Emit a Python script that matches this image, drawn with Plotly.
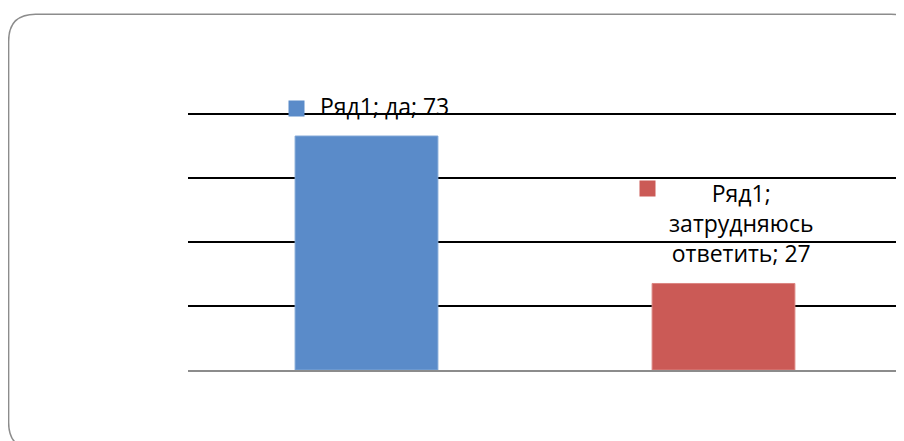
import plotly.graph_objects as go

categories = ["да", "затрудняюсь ответить"]
values = [73, 27]
series_name = "Ряд1"
label_lines = [["Ряд1; да; 73"], ["Ряд1;", "затрудняюсь", "ответить; 27"]]
colors = ["#5A8BC9", "#CB5A56"]
edge_colors = ["#7FA6D6", "#DB8581"]
grid_vals = [20, 40, 60, 80]
y_max = 80.5

# page body margin offset (figure drawn at (8, 8) in the window)
OFF = 8
W, H = 896, 433
ML = 187.5 - OFF
MR = 2
PH_per_unit = (370.5 - 113.5) / 80
MB = H - (370.5 - OFF)
MT = (113.5 - OFF) - (y_max - 80) * PH_per_unit
PW, PH = W - ML - MR, H - MT - MB

fig = go.Figure()
fig.add_trace(go.Bar(
    x=categories, y=values, name=series_name,
    marker=dict(color=colors, line=dict(color=edge_colors, width=1)),
    width=0.4, showlegend=False, hoverinfo="skip",
))

def px_x(p):
    return (p - OFF - ML) / PW

def px_y(p):
    return (H - MB - (p - OFF)) / PH

# rounded frame (screen pixel targets)
x0, y0, x1, y1, r = 8, 14, 918, 450, 27
path = (
    f"M {px_x(x0)} {px_y(y0 + r)} "
    f"Q {px_x(x0)} {px_y(y0)} {px_x(x0 + r)} {px_y(y0)} "
    f"L {px_x(x1 - r)} {px_y(y0)} "
    f"Q {px_x(x1)} {px_y(y0)} {px_x(x1)} {px_y(y0 + r)} "
    f"L {px_x(x1)} {px_y(y1 - r)} "
    f"Q {px_x(x1)} {px_y(y1)} {px_x(x1 - r)} {px_y(y1)} "
    f"L {px_x(x0 + r)} {px_y(y1)} "
    f"Q {px_x(x0)} {px_y(y1)} {px_x(x0)} {px_y(y1 - r)} Z"
)
fig.add_shape(type="path", path=path, xref="paper", yref="paper",
              line=dict(color="#8C8C8C", width=1.5), layer="below")

font = dict(family="Open Sans", size=23, color="#000000")
text_dx = [18, 17]
key_dx = [-70, -76]
key_dy = [28, 95]
for i, cat in enumerate(categories):
    fig.add_annotation(
        x=cat, y=values[i], xref="x", yref="y",
        text="<br>".join(label_lines[i]), showarrow=False,
        xanchor="center", yanchor="bottom", align="center",
        xshift=text_dx[i], yshift=12, font=font,
    )
    fig.add_annotation(
        x=cat, y=values[i], xref="x", yref="y",
        text=" ", showarrow=False, width=15, height=15,
        bgcolor=colors[i], borderpad=0, font=dict(size=6),
        xanchor="center", yanchor="middle",
        xshift=key_dx[i], yshift=key_dy[i],
    )

fig.update_layout(
    width=W, height=H,
    margin=dict(l=ML, r=MR, t=MT, b=MB, pad=0),
    paper_bgcolor="white", plot_bgcolor="white",
    bargap=0.6,
    xaxis=dict(showticklabels=False, ticks="", showgrid=False, zeroline=False,
               showline=True, linecolor="#8C8C8C", linewidth=2),
    yaxis=dict(range=[0, y_max], tickvals=grid_vals, showticklabels=False, ticks="",
               showgrid=True, gridcolor="#000000", gridwidth=1.5,
               zeroline=False, showline=False),
)

fig.write_html("out.html")
